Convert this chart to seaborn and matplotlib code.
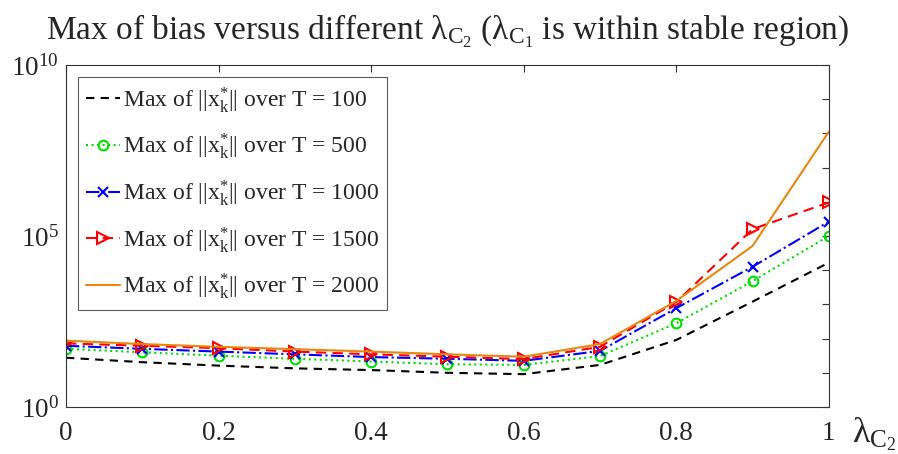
import numpy as np
import pandas as pd
import matplotlib
matplotlib.use("Agg")
import matplotlib.pyplot as plt
import seaborn as sns
from matplotlib.ticker import NullFormatter, FixedLocator

# ---- data (log10 values) ----
lam = [0.0, 0.1, 0.2, 0.3, 0.4, 0.5, 0.6, 0.7, 0.8, 0.9, 1.0]
log_T100 = [1.44, 1.31, 1.21, 1.13, 1.08, 1.00, 0.96, 1.23, 1.96, 3.08, 4.22]
log_T500 = [1.70, 1.60, 1.50, 1.41, 1.33, 1.25, 1.23, 1.49, 2.45, 3.68, 5.00]
log_T1000 = [1.79, 1.70, 1.62, 1.54, 1.46, 1.41, 1.35, 1.64, 2.89, 4.10, 5.42]
log_T1500 = [1.86, 1.79, 1.72, 1.62, 1.54, 1.47, 1.40, 1.76, 3.07, 5.20, 5.98]
log_T2000 = [1.94, 1.84, 1.76, 1.69, 1.62, 1.54, 1.47, 1.84, 3.10, 4.71, 8.05]
T_values = [100, 500, 1000, 1500, 2000]
series = [log_T100, log_T500, log_T1000, log_T1500, log_T2000]
x_ticks = [0, 0.2, 0.4, 0.6, 0.8, 1.0]
x_tick_labels = ['0', '0.2', '0.4', '0.6', '0.8', '1']
y_tick_labels = [r'$10^{0}$', r'$10^{5}$', r'$10^{10}$']

sns.set_style("white")
plt.rcParams['font.family'] = ['Liberation Serif', 'DejaVu Serif']
plt.rcParams['mathtext.fontset'] = 'custom'
plt.rcParams['mathtext.rm'] = 'Liberation Serif'
plt.rcParams['mathtext.it'] = 'Liberation Serif:italic'
plt.rcParams['mathtext.bf'] = 'Liberation Serif:bold'

styles = [
    dict(color='black', linestyle=(0, (4, 3)), marker=None),
    dict(color='#00e000', linestyle=':', marker='o', mfc='none', ms=7, mew=1.5),
    dict(color='#0000ff', linestyle='-.', marker='x', ms=7, mew=1.5),
    dict(color='#ff0000', linestyle=(0, (5, 3)), marker='>', mfc='none', ms=8, mew=1.5),
    dict(color='#e8860f', linestyle='-', marker=None),
]

fig = plt.figure(figsize=(8.98, 4.54), dpi=100)
ax = fig.add_axes([0.0735, 0.1035, 0.8495, 0.7535])

for T, vals, st in zip(T_values, series, styles):
    df = pd.DataFrame({'lam': lam, 'val': np.power(10.0, vals)})
    label = r"Max of $||\mathrm{x}_\mathrm{k}^{*}||$ over T = %d" % T
    kw = dict(color=st['color'], linestyle=st['linestyle'], linewidth=1.5)
    if st['marker'] is not None:
        kw.update(marker=st['marker'], markersize=st['ms'], markeredgewidth=st['mew'],
                  markeredgecolor=st['color'])
        if 'mfc' in st:
            kw.update(markerfacecolor=st['mfc'])
    sns.lineplot(data=df, x='lam', y='val', ax=ax, label=label, **kw)

ax.set_yscale('log')
ax.set_xlim(0, 1)
ax.set_ylim(1, 1e10)
ax.set_xticks(x_ticks)
ax.set_xticklabels(x_tick_labels)
ax.yaxis.set_major_locator(FixedLocator([1, 1e5, 1e10]))
ax.yaxis.set_minor_locator(FixedLocator([10.0**k for k in range(1, 10) if k != 5]))
ax.yaxis.set_minor_formatter(NullFormatter())
ax.set_yticklabels(y_tick_labels)
ax.tick_params(axis='both', which='both', direction='in', top=True, right=True,
               labelsize=19.5, length=5, width=0.8, color='#333333')
ax.tick_params(axis='y', which='minor', length=5)
ax.tick_params(axis='x', pad=10)
ax.tick_params(axis='y', pad=5)
for s in ax.spines.values():
    s.set_linewidth(0.8)
    s.set_color('#333333')
ax.set_xlabel('')
ax.set_ylabel('')

ax.set_title(r"Max of bias versus different $\mathrm{\lambda}_{\mathrm{C}_2}$ ($\mathrm{\lambda}_{\mathrm{C}_1}$ is within stable region)",
             fontsize=24, pad=18)
ax.text(1.030, -0.08, r"$\mathrm{\lambda}_{\mathrm{C}_2}$", transform=ax.transAxes,
        fontsize=26, ha='left', va='center')

leg = ax.legend(loc='upper left', fontsize=17, handlelength=1.45, handletextpad=0.1,
                labelspacing=0.72, borderpad=0.35, frameon=True, fancybox=False,
                borderaxespad=0.5)
leg.get_frame().set_edgecolor('#333333')
leg.get_frame().set_linewidth(0.8)

fig.savefig('out.png', dpi=100)
